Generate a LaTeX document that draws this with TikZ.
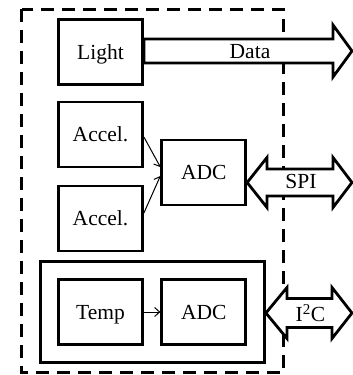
\documentclass[tikz,border=0pt]{standalone}
\usepackage{fontspec}
\setmainfont{Liberation Serif}
\usetikzlibrary{arrows.meta}
\begin{document}
\begin{tikzpicture}[x=1pt,y=-1pt,
  lbl/.style={font=\fontsize{21.5}{24}\selectfont, inner sep=0pt, text height=14.2pt, text depth=0pt},
  blk/.style={lbl, draw, line width=2.8pt, minimum width=84pt, minimum height=65pt},
  grpbox/.style={draw, line width=2.8pt, minimum width=224pt, minimum height=101pt, inner sep=0pt},
  bus/.style={draw, fill=white, line width=2.8pt, miter limit=10},
  sig/.style={line width=1pt, -{Straight Barb[length=5pt,width=9pt]}}]
  \useasboundingbox (0,0) rectangle (353,375);
  % module boundary
  \draw[line width=3pt, dash pattern=on 13pt off 8pt] (21.5,9) rectangle (283,372.5);
  % sensors and converters
  \node[blk] (light) at (100.5,52) {Light};
  \node[blk] (acc1) at (100.5,134.5) {Accel.};
  \node[blk] (acc2) at (100.5,218.5) {Accel.};
  \node[blk] (adc1) at (203.75,172.5) {ADC};
  \node[grpbox] (grp) at (152.5,312) {};
  \node[blk] (temp) at (100.5,312) {Temp};
  \node[blk] (adc2) at (203.75,312) {ADC};
  % analog signal paths
  \draw[sig] ([yshift=-2.5pt]acc1.east) -- ([yshift=5.5pt]adc1.west);
  \draw[sig] ([yshift=5.5pt]acc2.east) -- ([yshift=-3.5pt]adc1.west);
  \draw[sig] (temp.east) -- (adc2.west);
  % digital buses
  \path[bus] (light.east |- 0,39) -- (333,39) -- (333,25) -- (352,51)
    -- (333,77) -- (333,63) -- (light.east |- 0,63) -- cycle;
  \path[bus] (adc1.east |- 0,182.5) -- (267,157.5) -- (267,169) -- (333,169)
    -- (333,157.5) -- (352,182.5) -- (333,207.5) -- (333,196) -- (267,196)
    -- (267,207.5) -- cycle;
  \path[bus] (grp.east |- 0,313) -- (287,287.5) -- (287,298.5) -- (332,298.5)
    -- (332,287.5) -- (352,313) -- (332,338.5) -- (332,327.5) -- (287,327.5)
    -- (287,338.5) -- cycle;
  \node[lbl] (data) at (250,51) {Data};
  \node[lbl] (spi) at (301,181.5) {SPI};
  \node[lbl] (i2c) at (310.5,314.5) {I\textsuperscript{2}C};
\end{tikzpicture}
\end{document}
